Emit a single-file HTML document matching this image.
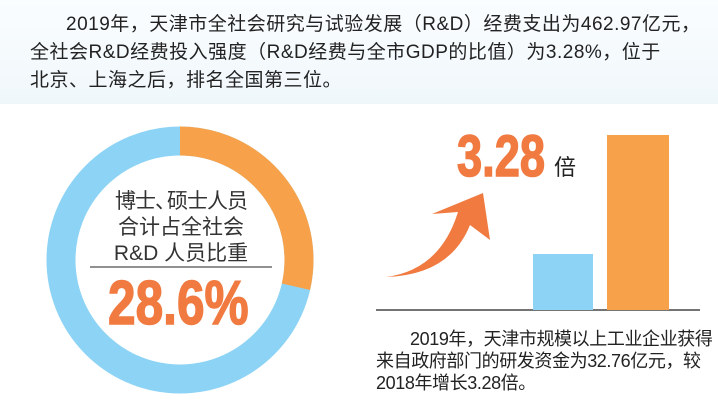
<!DOCTYPE html>
<html><head><meta charset="utf-8"><style>
body{margin:0;width:718px;height:414px;overflow:hidden;background:#fff;font-family:"Liberation Sans","Noto Sans CJK SC",sans-serif;position:relative;color:#222}
.top{position:absolute;left:0;top:0;width:718px;height:104px;background:linear-gradient(#fafdff,#f0f7fb)}
.t{position:absolute;font-size:19px;white-space:nowrap}
.c{position:absolute;font-size:21px;white-space:nowrap;color:#333;left:90px;width:182px;text-align:center}
.b{position:absolute;font-size:18px;white-space:nowrap;color:#222;letter-spacing:-0.4px}
.big{position:absolute;font-weight:bold;color:#f07a40;transform-origin:left top;white-space:nowrap;font-family:"Liberation Sans",sans-serif}
</style></head><body>
<div class="top"></div>
<div class="t" style="left:66px;top:9px;letter-spacing:0.5px">2019年，天津市全社会研究与试验发展（R&amp;D）经费支出为462.97亿元，</div>
<div class="t" style="left:30px;top:37px;letter-spacing:0.5px">全社会R&amp;D经费投入强度（R&amp;D经费与全市GDP的比值）为3.28%，位于</div>
<div class="t" style="left:30px;top:65px;letter-spacing:0.5px">北京、上海之后，排名全国第三位。</div>
<svg style="position:absolute;left:0;top:0" width="718" height="414">
<circle cx="180" cy="260" r="119" fill="none" stroke="#8dd3f5" stroke-width="29"/>
<circle cx="180" cy="260" r="119" fill="none" stroke="#f7a24a" stroke-width="29" stroke-dasharray="213.9 1000" transform="rotate(-90 180 260)"/>
<line x1="90" y1="267" x2="272" y2="267" stroke="#222" stroke-width="1"/>
<line x1="376" y1="310" x2="700" y2="310" stroke="#222" stroke-width="1.2"/>
<rect x="533" y="254" width="60" height="56" fill="#8dd3f5"/>
<rect x="607" y="135" width="62" height="175" fill="#f7a24a"/>
<path d="M386 277 Q440 270 458 212 L432 214 L483 193 L490 240 L470 225 Q450 275 386 277 Z" fill="#f07a40"/>
</svg>
<div class="c" style="top:185px;letter-spacing:-1px">博士<span style="margin-right:-8px">、</span>硕士人员</div>
<div class="c" style="top:211px">合计占全社会</div>
<div class="c" style="top:237px">R&amp;D 人员比重</div>
<div class="big" style="left:108px;top:268px;font-size:62px;transform:scaleX(0.8);-webkit-text-stroke:1.5px #f07a40">28.6%</div>
<div class="big" style="left:457px;top:123px;font-size:58px;transform:scaleX(0.78);-webkit-text-stroke:1.5px #f07a40">3.28</div>
<div style="position:absolute;left:554px;top:150px;font-size:22px">倍</div>
<div class="b" style="left:410px;top:325px">2019年，天津市规模以上工业企业获得</div>
<div class="b" style="left:376px;top:347px">来自政府部门的研发资金为32.76亿元，较</div>
<div class="b" style="left:376px;top:369px">2018年增长3.28倍。</div>
</body></html>
